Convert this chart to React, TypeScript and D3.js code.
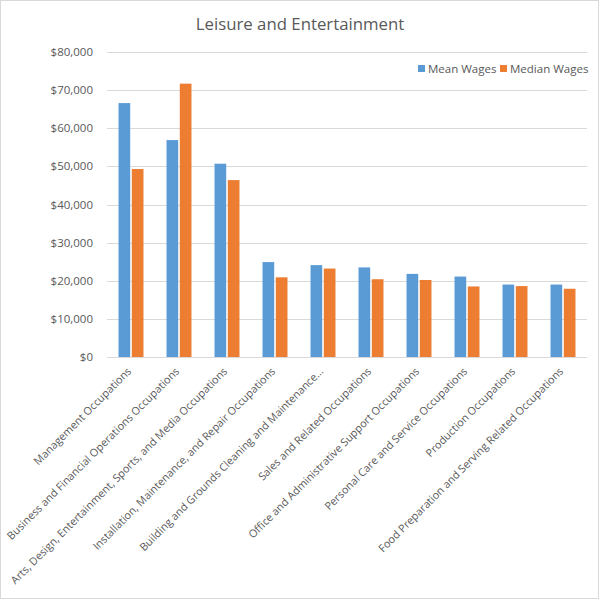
import React from "react";
import * as d3 from "d3";

const categories = [
  "Management Occupations",
  "Business and Financial Operations Occupations",
  "Arts, Design, Entertainment, Sports, and Media Occupations",
  "Installation, Maintenance, and Repair Occupations",
  "Building and Grounds Cleaning and Maintenance…",
  "Sales and Related Occupations",
  "Office and Administrative Support Occupations",
  "Personal Care and Service Occupations",
  "Production Occupations",
  "Food Preparation and Serving Related Occupations",
];
const meanWages = [66600, 56900, 50700, 24900, 24100, 23500, 21800, 21100, 19000, 19000];
const medianWages = [49300, 71700, 46400, 20900, 23200, 20400, 20200, 18500, 18600, 17900];
const seriesNames = ["Mean Wages", "Median Wages"];
const seriesColors = ["#5B9BD5", "#ED7D31"];
const yTicks = [0, 10000, 20000, 30000, 40000, 50000, 60000, 70000, 80000];
const title = "Leisure and Entertainment";

const FONT = "'Open Sans', 'Noto Sans', sans-serif";

export default function App() {
  const W = 600, H = 600;
  const left = 107, right = 587, top = 52, bottom = 357;
  const x = d3.scaleBand<string>().domain(categories).range([left, right]).paddingInner(0.48).paddingOuter(0.24);
  const x1 = d3.scaleBand<string>().domain(seriesNames).range([0, x.bandwidth()]).paddingInner(0.12);
  const y = d3.scaleLinear().domain([0, 80000]).range([bottom, top]);
  const fmt = (v: number) => "$" + d3.format(",")(v);
  const series = [meanWages, medianWages];

  return (
    <svg width={W} height={H} style={{ position: "absolute", left: 0, top: 0, background: "#fff" }} fontFamily={FONT}>
      <rect x={0.5} y={0.5} width={598} height={598} fill="#fff" stroke="#d9d9d9" />
      <text x={300} y={30} textAnchor="middle" fontSize={16.8} fill="#595959">{title}</text>
      {yTicks.map((t) => (
        <g key={t}>
          <line x1={left} x2={right} y1={Math.round(y(t)) + 0.5} y2={Math.round(y(t)) + 0.5} stroke="#d9d9d9" strokeWidth={1} />
          <text x={93} y={y(t)} dy="0.35em" textAnchor="end" fontSize={11.5} fill="#595959">{fmt(t)}</text>
        </g>
      ))}
      {categories.map((c, i) => (
        <g key={c}>
          {series.map((s, j) => (
            <rect
              key={j}
              x={(x(c) as number) + (x1(seriesNames[j]) as number)}
              y={y(s[i])}
              width={x1.bandwidth()}
              height={bottom - y(s[i])}
              fill={seriesColors[j]}
            />
          ))}
        </g>
      ))}
      {categories.map((c) => {
        const cx = (x(c) as number) + x.bandwidth() / 2;
        return (
          <text
            key={c}
            transform={`translate(${cx + 1},${372}) rotate(-45)`}
            textAnchor="end"
            fontSize={10.8}
            fill="#595959"
          >
            {c}
          </text>
        );
      })}
      <g transform="translate(418,69)">
        <rect x={0} y={-4} width={7} height={7} fill={seriesColors[0]} />
        <text x={10} y={0} dy="0.35em" fontSize={11.5} fill="#595959">{seriesNames[0]}</text>
        <rect x={82} y={-4} width={7} height={7} fill={seriesColors[1]} />
        <text x={92} y={0} dy="0.35em" fontSize={11.5} fill="#595959">{seriesNames[1]}</text>
      </g>
    </svg>
  );
}
